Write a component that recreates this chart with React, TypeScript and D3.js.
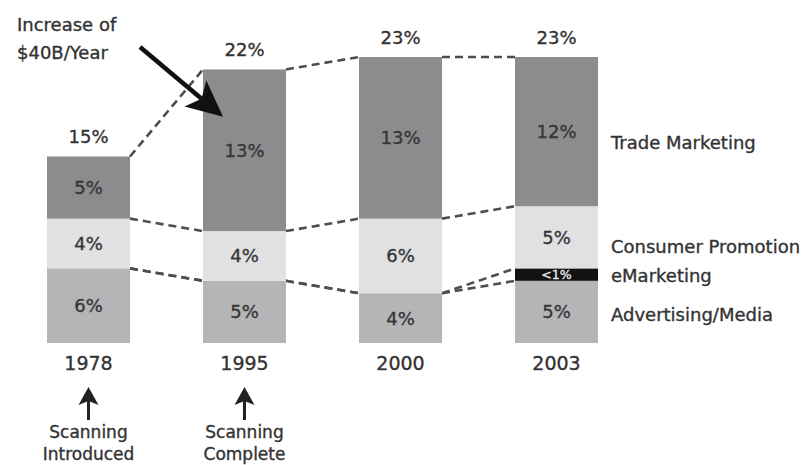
import React from "react";
import * as d3 from "d3";

// stacked shares of spend, bottom to top
const years = ["1978", "1995", "2000", "2003"];
const advertising = [6, 5, 4, 5];
const eMarketing = [0, 0, 0, 1];
const consumer = [4, 4, 6, 5];
const trade = [5, 13, 13, 12];

const seriesNames = ["Advertising/Media", "eMarketing", "Consumer Promotion", "Trade Marketing"];
const seriesColors = ["#b5b5b8", "#121212", "#e1e1e3", "#8c8c8f"];
const eMarketingLabel = "<1%";

const yearNotes = [["Scanning", "Introduced"], ["Scanning", "Complete"], null, null];

const W = 812;
const H = 465;
const FONT = "'DejaVu Sans', sans-serif";

const App: React.FC = () => {
  const rows = years.map((yr, i) => ({
    year: yr,
    "Advertising/Media": advertising[i],
    eMarketing: eMarketing[i],
    "Consumer Promotion": consumer[i],
    "Trade Marketing": trade[i],
  }));

  const stack = d3.stack<any>().keys(seriesNames);
  const layers = stack(rows);

  const x = d3.scaleBand().domain(years).range([47, 598]).paddingInner(0.468).paddingOuter(0);
  const bw = x.bandwidth();
  const y = d3.scaleLinear().domain([0, 23]).range([343, 57]);

  const totals = rows.map((_, i) => d3.sum(layers, (l) => l[i][1] - l[i][0]));

  // dashed connectors between the tops of each segment
  const connectors: { x1: number; y1: number; x2: number; y2: number; key: string }[] = [];
  layers.forEach((layer, li) => {
    for (let i = 0; i < years.length - 1; i++) {
      connectors.push({
        key: `${li}-${i}`,
        x1: x(years[i])! + bw,
        y1: y(layer[i][1]),
        x2: x(years[i + 1])!,
        y2: y(layer[i + 1][1]),
      });
    }
  });

  // big arrow toward the 1995 bar
  const aStart: [number, number] = [140, 47];
  const aTip: [number, number] = [x("1995")! + 20, y(18.2)];
  const dx = aTip[0] - aStart[0];
  const dy = aTip[1] - aStart[1];
  const len = Math.hypot(dx, dy);
  const ux = dx / len;
  const uy = dy / len;
  const px = -uy;
  const py = ux;
  const headLen = 36;
  const headW = 17;
  const base = [aTip[0] - ux * headLen, aTip[1] - uy * headLen];
  const notch = [aTip[0] - ux * (headLen - 8), aTip[1] - uy * (headLen - 8)];
  const head = [
    aTip,
    [base[0] + px * headW, base[1] + py * headW],
    notch,
    [base[0] - px * headW, base[1] - py * headW],
  ];

  const last = years.length - 1;
  const legendNudge = [3, 1, 9, 11];

  return (
    <svg
      width={W}
      height={H}
      style={{ position: "absolute", left: 0, top: 0, background: "#fff" }}
      fontFamily={FONT}
    >
      <style>{"text{stroke:currentColor;stroke-width:0.35px;}"}</style>
      {/* connectors */}
      <g stroke="#4e4e4e" strokeWidth={2.6} strokeDasharray="8,5" fill="none">
        {connectors.map((c) => (
          <line key={c.key} x1={c.x1} y1={c.y1} x2={c.x2} y2={c.y2} />
        ))}
      </g>

      {/* bars */}
      {layers.map((layer, li) => (
        <g key={seriesNames[li]} fill={seriesColors[li]}>
          {layer.map((d, i) =>
            d[1] - d[0] > 0 ? (
              <rect
                key={years[i]}
                x={x(years[i])}
                y={y(d[1])}
                width={bw}
                height={y(d[0]) - y(d[1])}
              />
            ) : null
          )}
        </g>
      ))}

      {/* segment labels */}
      {layers.map((layer, li) => (
        <g key={"lab" + li}>
          {layer.map((d, i) => {
            const v = d[1] - d[0];
            if (v <= 0) return null;
            const isE = seriesNames[li] === "eMarketing";
            const col = isE ? "#e8e8e8" : "#363636";
            return (
              <text
                key={years[i]}
                x={x(years[i])! + bw / 2}
                y={(y(d[0]) + y(d[1])) / 2}
                dy="0.36em"
                textAnchor="middle"
                fontSize={isE ? 12.5 : 18}
                fill={col}
                color={col}
              >
                {isE ? eMarketingLabel : `${v}%`}
              </text>
            );
          })}
        </g>
      ))}

      {/* totals */}
      {totals.map((t, i) => (
        <text
          key={"tot" + i}
          x={x(years[i])! + bw / 2}
          y={y(t) - 13}
          textAnchor="middle"
          fontSize={18}
          fill="#333"
          color="#333"
        >
          {t}%
        </text>
      ))}

      {/* year labels */}
      {years.map((yr) => (
        <text
          key={"yr" + yr}
          x={x(yr)! + bw / 2}
          y={y(0) + 27}
          textAnchor="middle"
          fontSize={19}
          fill="#333"
          color="#333"
        >
          {yr}
        </text>
      ))}

      {/* legend on the right, aligned with last bar */}
      {layers.map((layer, li) => (
        <text
          key={"leg" + li}
          x={x(years[last])! + bw + 13}
          y={(y(layer[last][0]) + y(layer[last][1])) / 2 + legendNudge[li]}
          dy="0.36em"
          fontSize={18}
          fill="#333"
          color="#333"
        >
          {seriesNames[li]}
        </text>
      ))}

      {/* year notes with up arrows */}
      {yearNotes.map((note, i) => {
        if (!note) return null;
        const cx = x(years[i])! + bw / 2;
        return (
          <g key={"note" + i}>
            <line x1={cx} y1={420} x2={cx} y2={400} stroke="#222" strokeWidth={3} />
            <polygon
              points={`${cx},${387} ${cx - 10},${405} ${cx},${401} ${cx + 10},${405}`}
              fill="#222"
            />
            <text x={cx} y={438} textAnchor="middle" fontSize={17} fill="#333" color="#333">
              {note[0]}
            </text>
            <text x={cx} y={460} textAnchor="middle" fontSize={17} fill="#333" color="#333">
              {note[1]}
            </text>
          </g>
        );
      })}

      {/* increase annotation */}
      <text x={17} y={31} fontSize={18} fill="#333" color="#333">
        Increase of
      </text>
      <text x={17} y={59} fontSize={18} fill="#333" color="#333">
        $40B/Year
      </text>
      <line
        x1={aStart[0]}
        y1={aStart[1]}
        x2={notch[0]}
        y2={notch[1]}
        stroke="#111"
        strokeWidth={4.5}
      />
      <polygon points={head.map((p) => p.join(",")).join(" ")} fill="#111" />
    </svg>
  );
};

export default App;
